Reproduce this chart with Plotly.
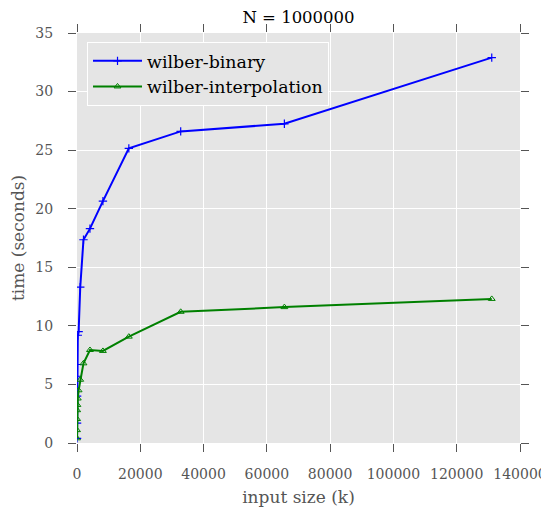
import plotly.graph_objects as go

input_size = [8, 16, 32, 64, 128, 256, 512, 1024, 2048, 4096, 8192, 16384, 32768, 65536, 131072]
binary_time = [0.4, 1.7, 4.0, 5.7, 6.7, 9.2, 9.5, 13.3, 17.35, 18.3, 20.65, 25.15, 26.6, 27.25, 32.9]
interp_time = [0.4, 1.1, 2.05, 2.8, 3.25, 3.8, 4.5, 5.4, 6.8, 7.94, 7.86, 9.08, 11.2, 11.6, 12.3]

x_ticks = [0, 20000, 40000, 60000, 80000, 100000, 120000, 140000]
y_ticks = [0, 5, 10, 15, 20, 25, 30, 35]

FONT = "DejaVu Serif"
W, H = 541, 502
L, R, T, B = 69, 29, 25, 67

fig = go.Figure()
fig.add_trace(go.Scatter(
    x=input_size, y=binary_time, mode="lines+markers", name="wilber-binary",
    line=dict(color="#0000ff", width=2),
    marker=dict(symbol="cross-thin", size=6, color="#0000ff", line=dict(color="#0000ff", width=1.2)),
))
fig.add_trace(go.Scatter(
    x=input_size, y=interp_time, mode="lines+markers", name="wilber-interpolation",
    line=dict(color="#008000", width=2),
    marker=dict(symbol="triangle-up-open", size=6, color="#008000", line=dict(color="#008000", width=1)),
))

axis_common = dict(
    showgrid=True, gridcolor="white", gridwidth=1, zeroline=False,
    ticks="outside", ticklen=8, tickcolor="#555555", mirror="ticks",
    showline=False, automargin=False,
    tickfont=dict(family=FONT, size=14, color="#555555"),
    title_font=dict(family=FONT, size=17, color="#555555"),
)
fig.update_xaxes(range=[0, 140000], tickvals=x_ticks, ticktext=[str(v) for v in x_ticks],
                 title_text="input size (k)", ticklabelstandoff=10, title_standoff=10,
                 **axis_common)
fig.update_yaxes(range=[0, 35], tickvals=y_ticks, ticktext=[str(v) for v in y_ticks],
                 title_text="time (seconds)", ticklabelstandoff=12, title_standoff=6,
                 **axis_common)
fig.update_layout(
    width=W, height=H,
    margin=dict(l=L, r=R, t=T, b=B),
    plot_bgcolor="#e5e5e5", paper_bgcolor="white",
    title=dict(text="N = 1000000", x=(L + (W - L - R) / 2) / W, xanchor="center",
               y=1 - 9 / H, yanchor="middle",
               font=dict(family=FONT, size=16.5, color="black")),
    legend=dict(x=0.0226, y=0.978, xanchor="left", yanchor="top",
                bgcolor="#e5e5e5", bordercolor="white", borderwidth=1,
                font=dict(family=FONT, size=17.4, color="black"), itemwidth=49),
    showlegend=True,
)
fig.write_html("out.html")
